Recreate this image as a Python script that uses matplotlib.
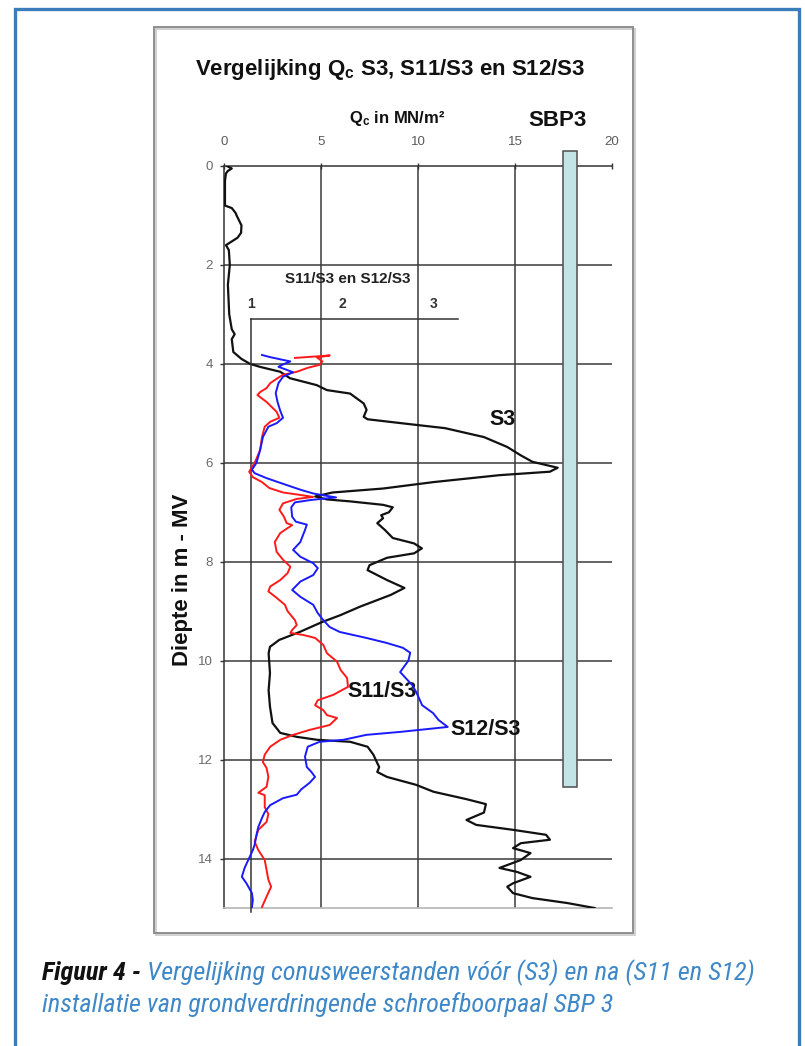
import matplotlib
matplotlib.use("Agg")
import matplotlib.pyplot as plt
from matplotlib.patches import Rectangle
from matplotlib import font_manager

# ---------------------------------------------------------------- data
# Cone resistance S3 before installation (depth in m - MV, Qc in MN/m2)
s3_depth = [0.0, 0.05, 0.1, 0.15, 0.3, 0.5, 0.8, 0.85, 0.95, 1.0, 1.2, 1.35,
            1.45, 1.5, 1.6, 1.7, 2.0, 2.4, 3.0, 3.3, 3.4, 3.5, 3.76, 3.9, 4.0,
            4.06, 4.16, 4.29, 4.43, 4.53, 4.6, 4.8, 4.93, 5.07, 5.12, 5.22,
            5.3, 5.48, 5.68, 5.85, 5.98, 6.1, 6.18, 6.25, 6.39, 6.52, 6.6,
            6.68, 6.74, 6.78, 6.85, 6.9, 7.0, 7.06, 7.12, 7.22, 7.36, 7.52,
            7.63, 7.73, 7.83, 7.92, 8.07, 8.17, 8.37, 8.53, 8.67, 8.91, 9.08,
            9.22, 9.42, 9.58, 9.72, 9.85, 10.25, 10.6, 10.93, 11.26, 11.46,
            11.54, 11.6, 11.64, 11.74, 11.9, 12.07, 12.15, 12.25, 12.35,
            12.51, 12.65, 12.8, 12.9, 13.07, 13.22, 13.32, 13.42, 13.52,
            13.62, 13.69, 13.79, 13.89, 14.03, 14.19, 14.27, 14.37, 14.5,
            14.57, 14.7, 14.8, 14.9, 15.0]
s3_qc = [0.15, 0.4, 0.2, 0.1, 0.05, 0.05, 0.05, 0.4, 0.6, 0.65, 0.9, 0.88,
         0.7, 0.5, 0.1, 0.25, 0.3, 0.2, 0.27, 0.4, 0.55, 0.4, 0.48, 0.9, 1.34,
         1.85, 2.9, 3.4, 4.78, 5.3, 6.5, 7.2, 7.35, 7.2, 7.4, 9.6,
         11.4, 13.4, 14.6, 15.3, 15.9, 17.2, 16.8, 14.2, 10.8, 8.2, 5.6,
         4.7, 5.3, 6.5, 8.2, 8.7, 8.5, 8.1, 8.2, 7.9, 8.3, 8.7,
         9.8, 10.2, 9.8, 8.4, 7.5, 7.4, 8.4, 9.3, 8.6, 7.0, 6.0,
         5.05, 3.9, 2.85, 2.37, 2.3, 2.37, 2.3, 2.37, 2.5, 2.9,
         3.75, 4.8, 6.5, 7.4, 7.7, 7.9, 8.0, 7.9, 8.4,
         9.9, 10.8, 12.5, 13.5, 13.4, 12.5, 13.0, 14.9, 16.6,
         16.8, 15.3, 14.9, 15.8, 15.3, 14.2, 15.1, 15.8, 14.9,
         14.6, 14.9, 15.9, 17.7, 19.1]

# Ratio S11/S3 after installation
s11_depth = [3.88, 3.83, 3.87, 3.95, 4.02, 4.08, 4.16, 4.22, 4.29, 4.39, 4.49,
             4.57, 4.63, 4.77, 4.97, 5.09, 5.17, 5.27, 5.48, 5.74, 6.0, 6.18,
             6.29, 6.39, 6.51, 6.60, 6.65, 6.69, 6.73, 6.82, 6.95, 7.09, 7.22,
             7.26, 7.32, 7.42, 7.6, 7.8, 7.96, 8.1, 8.23, 8.37, 8.5, 8.6,
             8.73, 8.87, 9.0, 9.18, 9.28, 9.38, 9.44, 9.48, 9.54, 9.68, 9.85,
             10.02, 10.19, 10.35, 10.53, 10.69, 10.8, 10.9, 11.0, 11.1, 11.16,
             11.3, 11.4, 11.5, 11.6, 11.74, 11.9, 12.05, 12.17, 12.35, 12.55,
             12.67, 12.72, 12.96, 13.1, 13.26, 13.42, 13.66, 13.83, 14.03,
             14.23, 14.43, 14.57, 14.77, 14.98]
s11_ratio = [1.48, 1.86, 1.72, 1.78, 1.75, 1.62, 1.50, 1.35, 1.29, 1.21, 1.17,
             1.10, 1.07, 1.17, 1.28, 1.31, 1.21, 1.15, 1.12, 1.10, 1.04, 0.98,
             1.02, 1.12, 1.20, 1.35, 1.54, 1.68, 1.50, 1.35, 1.31, 1.36, 1.39,
             1.45, 1.40, 1.32, 1.26, 1.28, 1.35, 1.43, 1.40, 1.32, 1.21, 1.19,
             1.28, 1.37, 1.40, 1.48, 1.50, 1.45, 1.43, 1.57, 1.70, 1.79, 1.83,
             1.94, 1.98, 2.05, 2.06, 1.90, 1.73, 1.70, 1.79, 1.83, 1.94,
             1.86, 1.64, 1.46, 1.32, 1.21, 1.15, 1.13, 1.17, 1.19, 1.17,
             1.08, 1.15, 1.15, 1.19, 1.17, 1.08, 1.04, 1.08, 1.15,
             1.17, 1.19, 1.22, 1.17, 1.12]

# Ratio S12/S3 after installation
s12_depth = [3.82, 3.86, 3.92, 3.95, 4.02, 4.06, 4.12, 4.17, 4.26, 4.39, 4.59,
             4.77, 4.95, 5.09, 5.2, 5.27, 5.48, 5.74, 6.0, 6.14, 6.21, 6.31,
             6.45, 6.55, 6.62, 6.66, 6.70, 6.75, 6.8, 6.9, 7.09, 7.19, 7.25,
             7.36, 7.5, 7.6, 7.76, 7.9, 8.03, 8.13, 8.27, 8.4, 8.57, 8.71,
             8.87, 9.04, 9.18, 9.32, 9.42, 9.54, 9.64, 9.74, 9.84, 10.0, 10.23,
             10.33, 10.49, 10.65, 10.9, 11.06, 11.2, 11.34, 11.44, 11.5, 11.6,
             11.64, 11.74, 11.94, 12.15, 12.25, 12.35, 12.47, 12.6, 12.71,
             12.78, 12.92, 13.06, 13.18, 13.36, 13.52, 13.72, 13.83, 13.99,
             14.19, 14.37, 14.5, 14.7, 14.84, 14.98]
s12_ratio = [1.12, 1.20, 1.35, 1.43, 1.34, 1.30, 1.39, 1.46, 1.35, 1.30, 1.27,
             1.29, 1.32, 1.35, 1.28, 1.19, 1.13, 1.10, 1.06, 1.01, 1.04, 1.17,
             1.39, 1.55, 1.68, 1.80, 1.93, 1.66, 1.48, 1.44, 1.45, 1.49, 1.61,
             1.59, 1.56, 1.54, 1.46, 1.54, 1.68, 1.73, 1.68, 1.54, 1.45, 1.54,
             1.68, 1.73, 1.79, 1.86, 1.97, 2.26, 2.48, 2.66, 2.74, 2.72, 2.63,
             2.68, 2.76, 2.81, 2.87, 2.99, 3.05, 3.15, 2.63, 2.26, 2.01,
             1.75, 1.62, 1.59, 1.61, 1.66, 1.70, 1.64, 1.55, 1.50,
             1.35, 1.21, 1.15, 1.12, 1.08, 1.06, 1.04, 1.02, 0.98,
             0.93, 0.90, 0.95, 1.01, 1.02, 1.01]

# Screw pile SBP 3 (Qc-axis position, top and toe depth)
pile_x = 17.85
pile_width = 0.72
pile_top = -0.3
pile_toe = 12.55

qc_ticks = [0, 5, 10, 15, 20]
depth_ticks = [0, 2, 4, 6, 8, 10, 12, 14]
ratio_ticks = [1, 2, 3]

# ---------------------------------------------------------------- figure
W, H = 805, 1046
plt.rcParams["font.family"] = ["Liberation Sans", "DejaVu Sans"]
fig = plt.figure(figsize=(W / 100, H / 100), dpi=100)
fig.patch.set_facecolor("white")


def fx(px):
    return px / W


def fy(py):
    return 1 - py / H


# page frame and chart frame
fig.add_artist(Rectangle((fx(14.5), -0.05), fx(798.5) - fx(14.5), fy(8.5) + 0.05,
                         transform=fig.transFigure, fill=False,
                         edgecolor="#3b7db8", lw=2.4))
fig.add_artist(Rectangle((fx(156), fy(935)), fx(635) - fx(156), fy(29) - fy(935),
                         transform=fig.transFigure, fill=False,
                         edgecolor="#d0d0d0", lw=1.4))
fig.add_artist(Rectangle((fx(154), fy(933)), fx(633) - fx(154), fy(27) - fy(933),
                         transform=fig.transFigure, fill=False,
                         edgecolor="#8e8e8e", lw=1.4))

# main axes: Qc against depth
X0, X1, Y0, Y1 = 224, 612, 166, 908
ax = fig.add_axes([fx(X0), fy(Y1), fx(X1) - fx(X0), fy(Y0) - fy(Y1)])
ax.set_xlim(0, 20)
ax.set_ylim(15, 0)
ax.set_facecolor("none")
ax.xaxis.tick_top()
ax.set_xticks(qc_ticks)
ax.set_yticks(depth_ticks)
ax.tick_params(axis="x", direction="inout", length=5, width=1.0, pad=10.5,
               labelsize=9.5, labelcolor="#5a5a5a", color="#333333")
ax.tick_params(axis="y", direction="out", length=3, width=1.0, pad=5,
               labelsize=9.5, labelcolor="#6a6a6a", color="#333333")
for s in ("top", "left"):
    ax.spines[s].set_color("#333333")
    ax.spines[s].set_linewidth(1.1)
ax.spines["right"].set_visible(False)
ax.spines["bottom"].set_color("#b5b5b5")
ax.spines["bottom"].set_linewidth(1.2)

for v in qc_ticks[1:-1]:
    ax.axvline(v, color="#3a3a3a", lw=1.1, zorder=1)
for h in depth_ticks[1:]:
    ax.axhline(h, color="#3a3a3a", lw=1.1, zorder=1)

ax.bar(pile_x, pile_toe - pile_top, bottom=pile_top, width=pile_width,
       color="#c3e4e6", edgecolor="#4d4d4d", lw=1.1, clip_on=False, zorder=3)

ax.plot(s3_qc, s3_depth, color="#111111", lw=1.6, zorder=4)
ax.text(14.33, 5.13, "S3", fontsize=15.5, fontweight="bold", color="#111111",
        ha="center", va="center")

# secondary axes: ratio S11/S3 and S12/S3
d_per_px = 15 / (Y1 - Y0)
R0, R1, RT, RB = 251, 458, 319, 912
r_per_px = 1 / 91.5
ax2 = fig.add_axes([fx(R0), fy(RB), fx(R1) - fx(R0), fy(RT) - fy(RB)])
ax2.set_facecolor("none")
ax2.set_xlim(1, 1 + (R1 - R0) * r_per_px)
ax2.set_ylim((RB - Y0) * d_per_px, (RT - Y0) * d_per_px)
ax2.xaxis.tick_top()
ax2.set_xticks(ratio_ticks)
ax2.set_yticks([])
ax2.tick_params(axis="x", length=0, pad=6, labelsize=10, labelcolor="#333333")
for lab in ax2.get_xticklabels():
    lab.set_fontweight("bold")
for s in ("bottom", "right"):
    ax2.spines[s].set_visible(False)
for s in ("top", "left"):
    ax2.spines[s].set_color("#333333")
    ax2.spines[s].set_linewidth(1.1)

ax2.plot(s11_ratio, s11_depth, color="#ff1a1a", lw=1.4, clip_on=False, zorder=5)
ax2.plot(s12_ratio, s12_depth, color="#1a1aff", lw=1.4, clip_on=False, zorder=5)
ax2.text(2.049, 10.63, "S11/S3", fontsize=15.5, fontweight="bold",
         color="#111111", ha="left", va="center")
ax2.text(3.175, 11.40, "S12/S3", fontsize=15.5, fontweight="bold",
         color="#111111", ha="left", va="center")

# titles and axis captions
fig.text(fx(390), fy(70), r"Vergelijking Q$\mathregular{_c}$ S3, S11/S3 en S12/S3",
         fontsize=16, fontweight="bold", color="#111111", ha="center", va="center")
fig.text(fx(397), fy(119), r"Q$\mathregular{_c}$ in MN/m²", fontsize=12,
         fontweight="bold", color="#111111", ha="center", va="center")
fig.text(fx(557), fy(120), "SBP3", fontsize=16, fontweight="bold",
         color="#111111", ha="center", va="center")
fig.text(fx(348), fy(279), "S11/S3 en S12/S3", fontsize=11, fontweight="bold",
         color="#222222", ha="center", va="center")
fig.text(fx(182), fy(580), "Diepte in m - MV", fontsize=16, fontweight="bold",
         color="#111111", ha="center", va="center", rotation=90)

# figure caption
available = {f.name for f in font_manager.fontManager.ttflist}
cap_family = "Roboto"
for name in ("Roboto Condensed", "Liberation Sans Narrow", "Open Sans Condensed"):
    if name in available:
        cap_family = name
        break

fig.canvas.draw()
renderer = fig.canvas.get_renderer()
line1 = " Vergelijking conusweerstanden vóór (S3) en na (S11 en S12)"
line2 = "installatie van grondverdringende schroefboorpaal SBP 3"


def caption(size):
    a = fig.text(fx(42), fy(973), "Figuur 4 -", fontsize=size, fontweight="bold",
                 style="italic", family=cap_family, color="#111111", va="center")
    bb = a.get_window_extent(renderer)
    b = fig.text(bb.x1 / W, fy(973), line1, fontsize=size, style="italic",
                 family=cap_family, color="#3f88c8", va="center")
    c = fig.text(fx(42), fy(1005), line2, fontsize=size, style="italic",
                 family=cap_family, color="#3f88c8", va="center")
    return a, b, c


parts = caption(14)
end = parts[1].get_window_extent(renderer).x1
for p in parts:
    p.remove()
size = 14 * (757 - 42) / (end - 42)
caption(size)

fig.savefig("out.png", dpi=100, facecolor="white")
